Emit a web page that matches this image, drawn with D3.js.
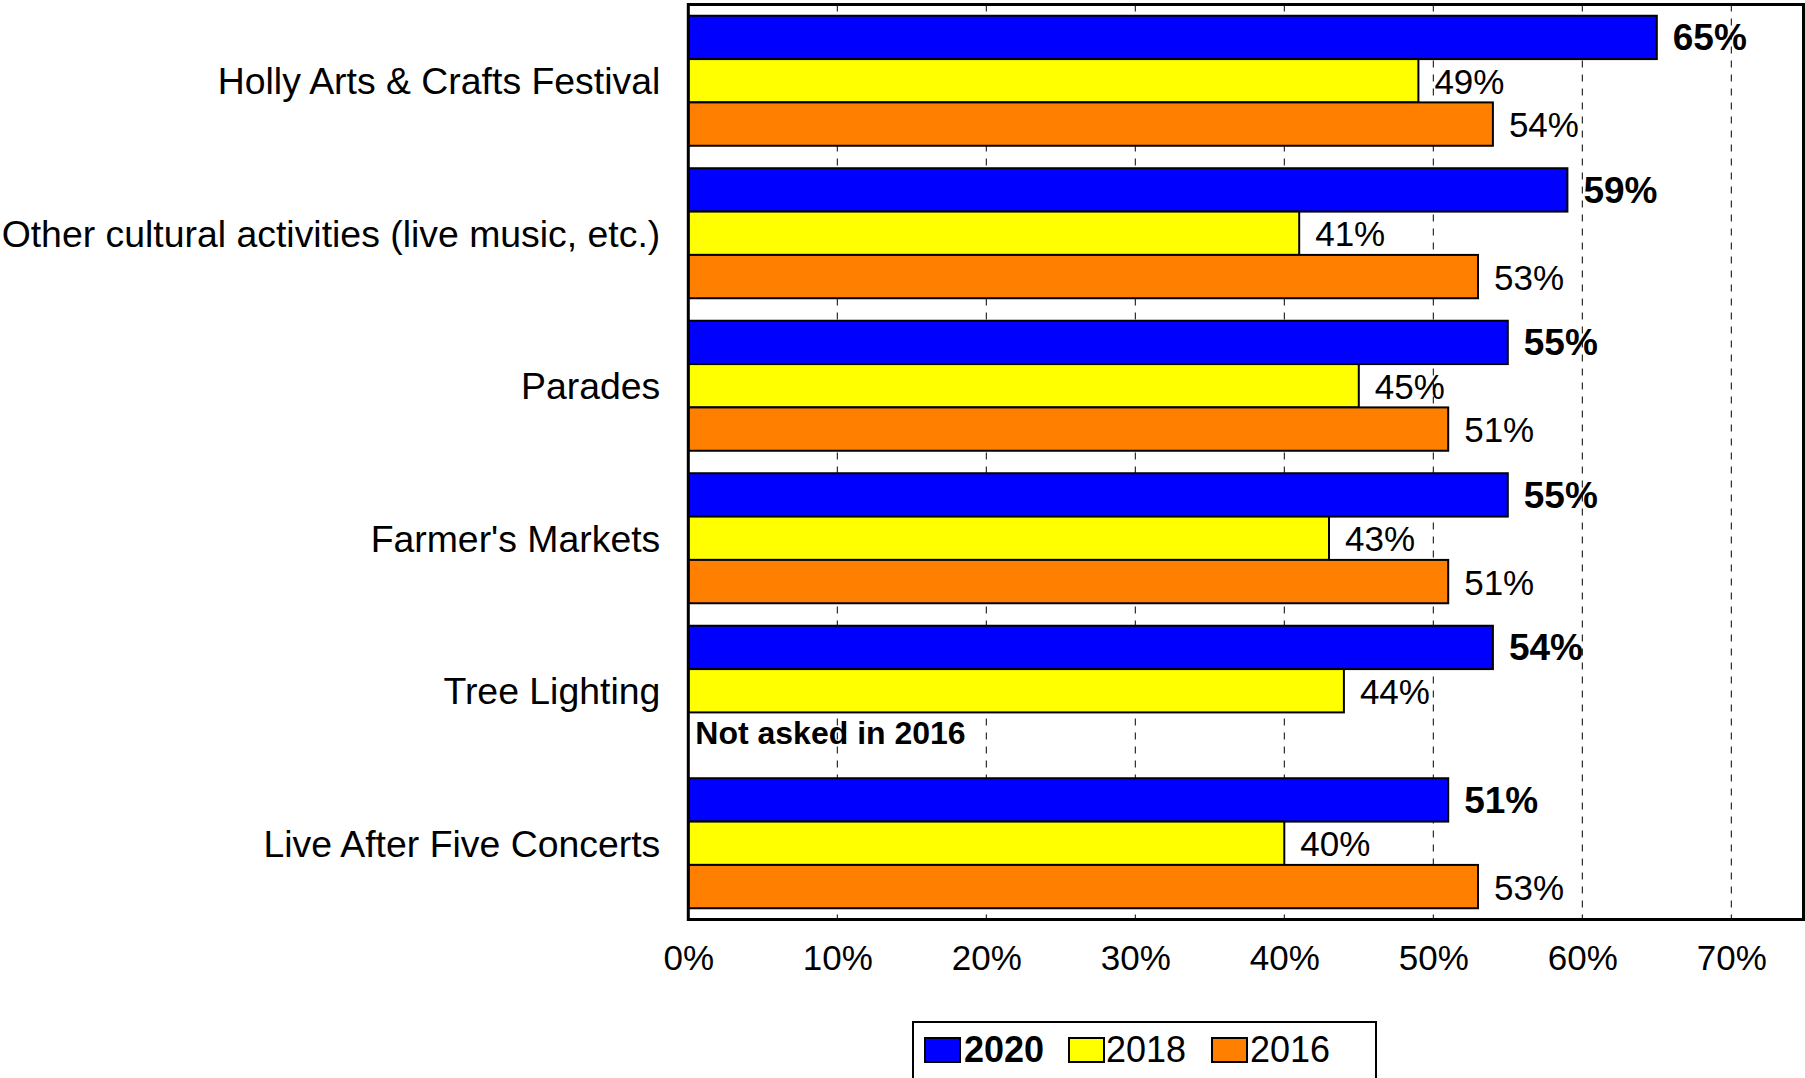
<!DOCTYPE html>
<html>
<head>
<meta charset="utf-8">
<script src="https://cdn.jsdelivr.net/npm/d3@7"></script>
<style>
  body { margin: 0; background: #fff; }
  svg { display: block; }
  text { font-family: "Liberation Sans", Arial, sans-serif; fill: #000; }
</style>
</head>
<body>
<svg id="chart" width="1805" height="1078"></svg>
<script>
// Event participation by survey year
const categories = [
  "Holly Arts & Crafts Festival",
  "Other cultural activities (live music, etc.)",
  "Parades",
  "Farmer's Markets",
  "Tree Lighting",
  "Live After Five Concerts"
];
const values2020 = [65, 59, 55, 55, 54, 51];
const values2018 = [49, 41, 45, 43, 44, 40];
const values2016 = [54, 53, 51, 51, null, 53];
const seriesNames = ["2020", "2018", "2016"];
const seriesColors = ["#0000FF", "#FFFF00", "#FF8000"];
const tickValues = [0, 10, 20, 30, 40, 50, 60, 70];
const tickLabels = ["0%", "10%", "20%", "30%", "40%", "50%", "60%", "70%"];
const missingNote = "Not asked in 2016";

const seriesValues = [values2020, values2018, values2016];

const svg = d3.select("#chart");

const plot = { left: 688.3, right: 1803.5, top: 4.5, bottom: 919.5 };

const x = d3.scaleLinear().domain([0, 75]).range([plot.left, plot.left + 14.9 * 75]);
const y = d3.scaleBand()
  .domain(categories)
  .range([plot.top, plot.bottom])
  .paddingInner(0.1475)
  .paddingOuter(0.07375);
const inner = d3.scaleBand().domain(seriesNames).range([0, y.bandwidth()]);

// dashed vertical gridlines
svg.append("g")
  .selectAll("line")
  .data(tickValues.filter(d => d > 0))
  .join("line")
  .attr("x1", d => x(d)).attr("x2", d => x(d))
  .attr("y1", plot.top).attr("y2", plot.bottom)
  .attr("stroke", "#000")
  .attr("stroke-width", 1)
  .attr("stroke-dasharray", "7,7");

// bars
const rows = [];
categories.forEach((c, ci) => {
  seriesNames.forEach((s, si) => {
    rows.push({ cat: c, series: s, si, value: seriesValues[si][ci] });
  });
});

const groups = svg.append("g");
groups.selectAll("rect")
  .data(rows.filter(r => r.value != null))
  .join("rect")
  .attr("x", x(0))
  .attr("y", r => y(r.cat) + inner(r.series))
  .attr("width", r => x(r.value) - x(0))
  .attr("height", inner.bandwidth())
  .attr("fill", r => seriesColors[r.si])
  .attr("stroke", "#000")
  .attr("stroke-width", 2);

// value labels
groups.selectAll("text.value")
  .data(rows.filter(r => r.value != null))
  .join("text")
  .attr("class", "value")
  .attr("x", r => x(r.value) + 16)
  .attr("y", r => y(r.cat) + inner(r.series) + inner.bandwidth() / 2 + 13)
  .attr("font-size", r => r.si === 0 ? 37 : 35)
  .attr("font-weight", r => r.si === 0 ? "bold" : "normal")
  .text(r => r.value + "%");

// note for the missing 2016 value
rows.filter(r => r.value == null).forEach(r => {
  svg.append("text")
    .attr("x", x(0) + 7)
    .attr("y", y(r.cat) + inner(r.series) + inner.bandwidth() / 2 + 10)
    .attr("font-size", 32)
    .attr("font-weight", "bold")
    .text(missingNote);
});

// plot frame
svg.append("rect")
  .attr("x", plot.left).attr("y", plot.top)
  .attr("width", plot.right - plot.left).attr("height", plot.bottom - plot.top)
  .attr("fill", "none")
  .attr("stroke", "#000")
  .attr("stroke-width", 3);

// x axis labels
svg.append("g")
  .attr("transform", `translate(0,${plot.bottom})`)
  .call(d3.axisBottom(x).tickValues(tickValues).tickFormat((d, i) => tickLabels[i]).tickSize(0))
  .call(g => g.select(".domain").remove())
  .call(g => g.selectAll("text")
    .attr("y", 50.5).attr("dy", null)
    .attr("font-size", 35)
    .style("font-family", '"Liberation Sans", Arial, sans-serif')
    .attr("fill", "#000"));

// category labels
svg.append("g")
  .attr("transform", `translate(${plot.left},0)`)
  .call(d3.axisLeft(y).tickSize(0).tickPadding(28))
  .call(g => g.select(".domain").remove())
  .call(g => g.selectAll("text")
    .attr("dy", "0.36em")
    .attr("font-size", 37.4)
    .style("font-family", '"Liberation Sans", Arial, sans-serif')
    .attr("fill", "#000"));

// legend
const legend = svg.append("g");
legend.append("rect")
  .attr("x", 913).attr("y", 1022)
  .attr("width", 463).attr("height", 62)
  .attr("fill", "#fff")
  .attr("stroke", "#000")
  .attr("stroke-width", 2);
const swatchX = [925, 1069, 1212];
const labelX = [964, 1106, 1250];
seriesNames.forEach((s, i) => {
  legend.append("rect")
    .attr("x", swatchX[i]).attr("y", 1038)
    .attr("width", 35).attr("height", 24)
    .attr("fill", seriesColors[i])
    .attr("stroke", "#000")
    .attr("stroke-width", 2);
  legend.append("text")
    .attr("x", labelX[i]).attr("y", 1062)
    .attr("font-size", 36)
    .attr("font-weight", i === 0 ? "bold" : "normal")
    .text(s);
});
</script>
</body>
</html>
